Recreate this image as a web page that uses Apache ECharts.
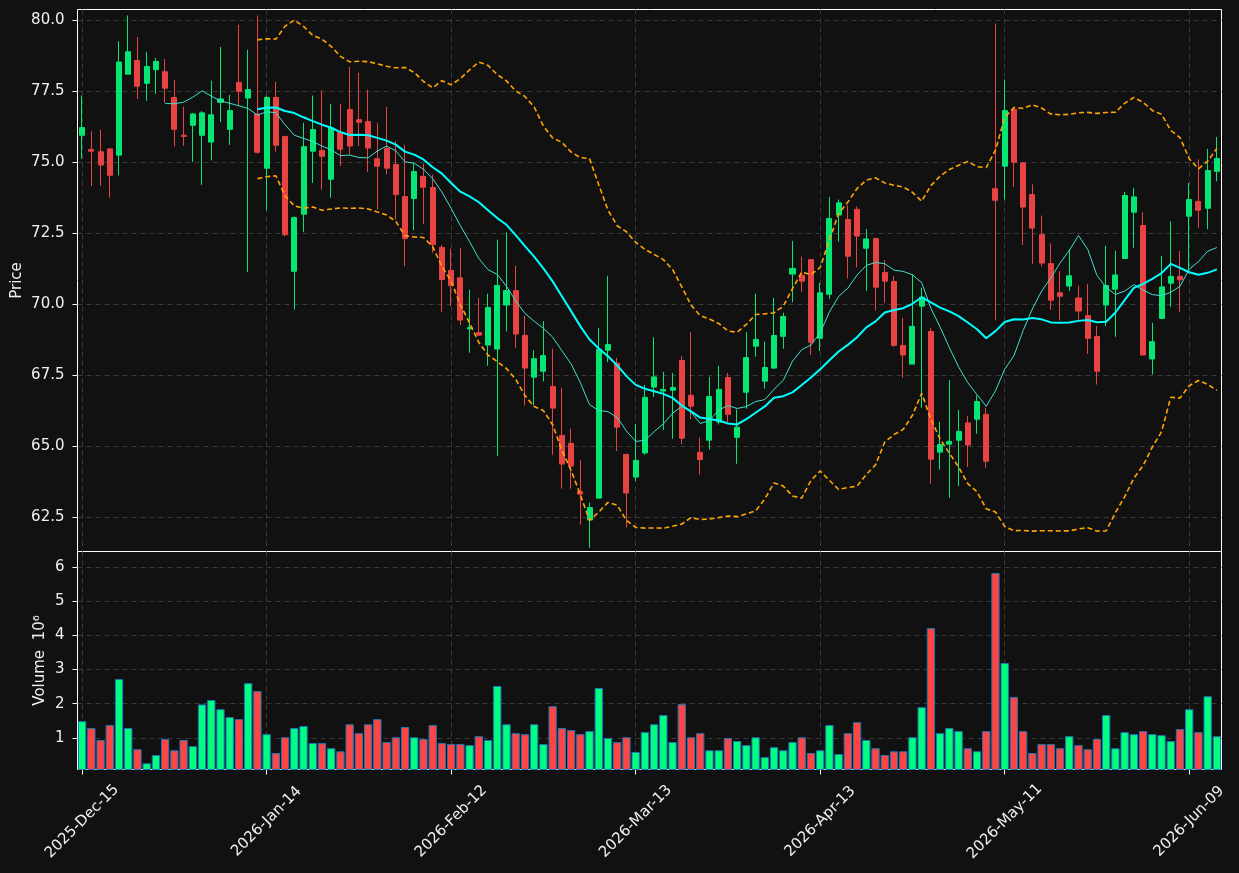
<!DOCTYPE html>
<html>
<head>
<meta charset="utf-8">
<script src="https://cdn.jsdelivr.net/npm/echarts@6/dist/echarts.min.js"></script>
<style>
  html, body { margin: 0; padding: 0; background: #111111; }
  #chart { width: 1239px; height: 873px; }
</style>
</head>
<body>
<div id="chart"></div>
<script>
// trading days (NYSE calendar), Dec 15 2025 .. Jun 12 2026
const holidays = ['2025-12-25', '2026-01-01', '2026-01-19', '2026-02-16', '2026-04-03', '2026-05-25']
const monthNames = ['Jan', 'Feb', 'Mar', 'Apr', 'May', 'Jun', 'Jul', 'Aug', 'Sep', 'Oct', 'Nov', 'Dec']
const barCount = 124

const opens = [
  75.96, 75.46, 75.38, 75.48, 75.26, 78.11, 78.59, 77.79, 78.27, 78.20,
  77.29, 75.96, 76.31, 75.96, 75.72, 77.12, 76.17, 77.82, 77.27, 76.71,
  74.80, 77.29, 75.92, 71.17, 73.18, 75.40, 75.42, 74.41, 76.06, 76.87,
  76.51, 76.44, 75.13, 75.49, 74.93, 73.80, 73.73, 74.51, 74.12, 72.01,
  71.20, 70.94, 69.14, 69.01, 68.57, 68.43, 69.98, 70.49, 68.91, 67.44,
  67.65, 67.11, 65.39, 65.11, 63.42, 62.41, 63.18, 68.39, 67.93, 64.72,
  63.92, 64.77, 67.09, 66.95, 66.98, 68.03, 66.80, 64.79, 65.22, 65.86,
  67.43, 65.32, 66.91, 68.53, 67.30, 67.76, 68.88, 71.07, 71.03, 71.58,
  68.81, 70.36, 73.15, 72.99, 73.35, 71.98, 72.32, 71.13, 70.81, 68.56,
  67.90, 69.94, 69.05, 64.80, 65.08, 65.22, 65.83, 65.96, 66.13, 74.08,
  74.87, 76.87, 74.99, 73.87, 72.46, 71.44, 70.41, 70.65, 70.23, 69.61,
  68.87, 69.98, 70.54, 71.62, 73.25, 72.78, 68.08, 69.51, 70.75, 70.99,
  73.11, 73.63, 73.39, 74.69
]
const closes = [
  76.23, 75.40, 74.91, 74.55, 78.54, 78.90, 77.69, 78.38, 78.56, 77.62,
  76.17, 75.92, 76.71, 76.75, 76.68, 77.24, 76.83, 77.51, 77.57, 75.36,
  77.29, 75.61, 72.46, 73.06, 75.56, 76.16, 75.22, 76.22, 75.47, 75.58,
  76.42, 75.51, 74.87, 74.80, 73.87, 72.32, 74.68, 74.13, 72.11, 70.88,
  70.67, 69.45, 69.19, 68.92, 69.89, 70.67, 70.49, 68.96, 67.76, 68.09,
  68.20, 66.35, 64.38, 64.31, 63.32, 62.85, 68.42, 68.59, 65.68, 63.36,
  64.51, 66.73, 67.45, 67.01, 67.08, 65.29, 66.42, 64.54, 66.76, 67.01,
  66.13, 65.68, 68.13, 68.77, 67.78, 68.91, 69.58, 71.27, 70.82, 68.67,
  70.41, 73.03, 73.58, 71.70, 72.41, 72.31, 70.61, 70.82, 68.56, 68.22,
  69.23, 70.26, 64.55, 65.07, 65.18, 65.53, 65.05, 66.58, 64.48, 73.67,
  76.83, 75.01, 73.43, 72.69, 71.46, 70.15, 70.29, 71.01, 69.77, 68.81,
  67.65, 70.67, 71.04, 73.84, 73.79, 68.22, 68.69, 70.62, 70.99, 70.87,
  73.70, 73.32, 74.72, 75.14
]
const lows = [
  75.13, 74.17, 74.18, 73.76, 74.55, 78.10, 77.24, 77.17, 77.42, 77.10,
  75.56, 75.59, 75.02, 74.21, 75.08, 76.42, 75.62, 76.98, 71.15, 75.31,
  73.31, 75.38, 72.40, 69.82, 72.56, 74.28, 74.04, 73.76, 74.88, 75.28,
  75.58, 74.67, 73.35, 74.58, 72.99, 71.35, 72.62, 72.84, 71.82, 69.73,
  69.94, 69.27, 68.30, 68.90, 67.84, 64.67, 69.05, 68.47, 66.44, 66.45,
  67.29, 64.71, 63.51, 63.51, 62.25, 61.43, 63.16, 67.97, 64.84, 62.14,
  63.78, 64.71, 66.74, 65.58, 65.27, 65.08, 65.95, 64.01, 64.89, 65.77,
  65.86, 64.39, 66.33, 68.16, 67.03, 67.74, 68.44, 70.08, 70.45, 68.22,
  68.36, 70.20, 72.21, 70.92, 71.31, 70.48, 69.79, 70.06, 68.51, 67.42,
  67.90, 66.36, 63.69, 64.19, 63.19, 63.60, 64.28, 65.45, 64.25, 69.45,
  73.70, 74.14, 72.10, 71.43, 71.33, 69.81, 69.44, 70.48, 69.47, 68.26,
  67.18, 69.24, 68.86, 71.60, 72.00, 68.20, 67.54, 69.48, 69.92, 69.74,
  71.23, 72.70, 72.65, 74.34
]
const highs = [
  77.36, 76.10, 76.15, 75.50, 79.27, 80.18, 79.42, 78.90, 78.69, 78.65,
  77.91, 76.96, 76.75, 76.81, 77.88, 79.07, 77.38, 79.85, 78.97, 80.18,
  77.36, 77.84, 75.92, 73.10, 76.40, 77.36, 77.54, 77.07, 77.07, 78.37,
  78.16, 77.56, 76.40, 76.96, 75.75, 75.63, 74.96, 74.96, 74.57, 72.10,
  71.96, 72.00, 70.52, 70.23, 70.38, 72.28, 72.54, 71.36, 69.60, 68.39,
  69.42, 68.44, 67.07, 65.63, 64.53, 63.02, 69.18, 71.01, 68.12, 64.75,
  65.79, 67.17, 68.85, 67.63, 67.59, 68.18, 69.03, 65.31, 67.45, 67.84,
  67.59, 66.30, 69.03, 70.38, 68.69, 70.23, 69.71, 72.24, 71.68, 71.60,
  70.76, 73.79, 73.70, 73.50, 73.45, 72.66, 72.35, 71.56, 71.00, 69.53,
  71.06, 70.59, 69.18, 65.87, 67.34, 66.29, 66.07, 66.80, 66.36, 79.90,
  77.92, 76.90, 75.00, 74.23, 73.13, 72.15, 71.17, 71.94, 70.66, 70.73,
  69.24, 72.07, 71.89, 73.97, 74.11, 73.25, 69.35, 71.71, 72.93, 71.88,
  74.28, 75.11, 75.48, 75.90
]
// volume, millions
const volumes = [
  1.49, 1.29, 0.94, 1.38, 2.72, 1.29, 0.67, 0.26, 0.50, 0.97,
  0.64, 0.94, 0.76, 1.98, 2.11, 1.84, 1.61, 1.55, 2.60, 2.37,
  1.11, 0.56, 1.02, 1.29, 1.35, 0.85, 0.85, 0.70, 0.61, 1.40,
  1.14, 1.40, 1.55, 0.88, 1.02, 1.32, 1.02, 0.97, 1.38, 0.85,
  0.82, 0.82, 0.79, 1.05, 0.94, 2.52, 1.40, 1.14, 1.11, 1.40,
  0.82, 1.93, 1.29, 1.23, 1.11, 1.20, 2.46, 1.00, 0.88, 1.02,
  0.59, 1.17, 1.40, 1.67, 0.88, 1.99, 1.02, 1.14, 0.64, 0.64,
  1.00, 0.91, 0.79, 1.02, 0.44, 0.73, 0.64, 0.88, 1.02, 0.56,
  0.64, 1.38, 0.53, 1.14, 1.46, 0.94, 0.70, 0.50, 0.61, 0.61,
  1.02, 1.90, 4.21, 1.14, 1.29, 1.20, 0.70, 0.61, 1.20, 5.82,
  3.19, 2.20, 1.20, 0.56, 0.82, 0.82, 0.70, 1.05, 0.79, 0.67,
  0.97, 1.67, 0.70, 1.17, 1.11, 1.20, 1.11, 1.08, 0.91, 1.26,
  1.84, 1.17, 2.22, 1.05
]

const priceTicks = [62.5, 65.0, 67.5, 70.0, 72.5, 75.0, 77.5, 80.0]
const volumeTicks = [1, 2, 3, 4, 5, 6]

// build the date labels
const dates = []
for (let d = new Date(Date.UTC(2025, 11, 15)); dates.length < barCount; d.setUTCDate(d.getUTCDate() + 1)) {
  const wd = d.getUTCDay()
  const iso = d.toISOString().slice(0, 10)
  if (wd === 0 || wd === 6 || holidays.includes(iso)) continue
  dates.push(d.getUTCFullYear() + '-' + monthNames[d.getUTCMonth()] + '-' + String(d.getUTCDate()).padStart(2, '0'))
}

// moving averages / bollinger from closes
function sma(n, i) {
  if (i < n - 1) return '-'
  let s = 0
  for (let k = i - n + 1; k <= i; k++) s += closes[k]
  return s / n
}
function band(sign, i) {
  if (i < 19) return '-'
  const m = sma(20, i)
  let v = 0
  for (let k = i - 19; k <= i; k++) v += (closes[k] - m) * (closes[k] - m)
  return m + sign * 2 * Math.sqrt(v / 20)
}
const ma10 = closes.map((c, i) => sma(10, i))
const ma20 = closes.map((c, i) => sma(20, i))
const upper = closes.map((c, i) => band(1, i))
const lower = closes.map((c, i) => band(-1, i))

const upColor = '#05e673'
const downColor = '#e84343'
const textColor = '#f0f0f0'
const gridLine = { show: true, lineStyle: { color: '#3a3a3a', type: [5, 4], width: 1 } }

const chart = echarts.init(document.getElementById('chart'))
chart.setOption({
  animation: false,
  backgroundColor: '#111111',
  textStyle: { fontFamily: 'DejaVu Sans' },
  grid: [
    { left: 77.5, top: 9.5, width: 1144, height: 542, show: true, borderColor: '#ffffff', borderWidth: 1 },
    { left: 77.5, top: 551.5, width: 1144, height: 218, show: true, borderColor: '#ffffff', borderWidth: 1 },
  ],
  xAxis: [
    {
      type: 'category', gridIndex: 0, data: dates, boundaryGap: true,
      axisLine: { show: false }, axisTick: { show: false }, axisLabel: { show: false },
      splitLine: { ...gridLine, interval: 19, alignWithLabel: true },
    },
    {
      type: 'category', gridIndex: 1, data: dates, boundaryGap: true,
      axisLine: { show: false },
      axisTick: { show: true, interval: 19, alignWithLabel: true, length: 5, lineStyle: { color: '#ffffff' } },
      axisLabel: {
        interval: 19, rotate: 45, color: textColor, fontSize: 15, margin: 52,
        align: 'center', verticalAlign: 'middle',
      },
      splitLine: { ...gridLine, interval: 19, alignWithLabel: true },
    },
  ],
  yAxis: [
    {
      type: 'value', gridIndex: 0, min: 61.3, max: 80.39, scale: true,
      axisLine: { show: false },
      axisTick: { show: true, customValues: priceTicks, length: 5, lineStyle: { color: '#ffffff' } },
      axisLabel: { customValues: priceTicks, color: textColor, fontSize: 15, margin: 13, formatter: (v) => v.toFixed(1) },
      splitLine: gridLine,
      name: 'Price', nameLocation: 'middle', nameRotate: 90, nameGap: 53, nameMoveOverlap: false,
      nameTextStyle: { color: textColor, fontSize: 15 },
    },
    {
      type: 'value', gridIndex: 1, min: 0.078, max: 6.45, scale: true,
      axisLine: { show: false },
      axisTick: { show: true, customValues: volumeTicks, length: 5, lineStyle: { color: '#ffffff' } },
      axisLabel: { customValues: volumeTicks, color: textColor, fontSize: 15, margin: 13, formatter: (v) => String(v) },
      splitLine: gridLine,
      name: 'Volume  10\u2076', nameLocation: 'middle', nameRotate: 90, nameGap: 30, nameMoveOverlap: false,
      nameTextStyle: { color: textColor, fontSize: 15 },
    },
  ],
  series: [
    {
      type: 'candlestick', xAxisIndex: 0, yAxisIndex: 0, barWidth: '60%',
      data: opens.map((o, i) => [o, closes[i], lows[i], highs[i]]),
      itemStyle: { color: upColor, color0: downColor, borderColor: upColor, borderColor0: downColor, borderWidth: 1 },
    },
    {
      type: 'line', name: 'MA10', xAxisIndex: 0, yAxisIndex: 0, data: ma10, symbol: 'none',
      lineStyle: { color: '#40e0d0', width: 1 },
    },
    {
      type: 'line', name: 'MA20', xAxisIndex: 0, yAxisIndex: 0, data: ma20, symbol: 'none',
      lineStyle: { color: '#00ffff', width: 2 },
    },
    {
      type: 'line', name: 'Upper', xAxisIndex: 0, yAxisIndex: 0, data: upper, symbol: 'none',
      lineStyle: { color: '#ffa500', width: 1.6, type: [5, 3] },
    },
    {
      type: 'line', name: 'Lower', xAxisIndex: 0, yAxisIndex: 0, data: lower, symbol: 'none',
      lineStyle: { color: '#ffa500', width: 1.6, type: [5, 3] },
    },
    {
      type: 'bar', name: 'Volume', xAxisIndex: 1, yAxisIndex: 1, barWidth: '90%',
      data: volumes.map((v, i) => ({
        value: v,
        itemStyle: { color: closes[i] >= opens[i] ? '#00ff80' : '#ff4444' },
      })),
      itemStyle: { borderColor: '#1f77b4', borderWidth: 1 },
    },
  ],
})
</script>
</body>
</html>
